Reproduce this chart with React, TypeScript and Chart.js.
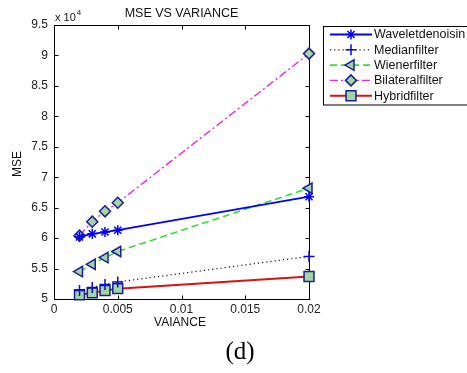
import React, { useEffect, useRef } from 'react';
import { Chart, registerables } from 'chart.js';
import { drawPoint } from 'chart.js/helpers';

Chart.register(...registerables);

// ---- data ----
const variance = [0.002, 0.003, 0.004, 0.005, 0.02];
const wavelet = [60200, 60700, 61000, 61300, 66800];
const median = [51400, 51900, 52400, 52800, 57000];
const wiener = [54500, 55700, 56800, 57800, 68200];
const bilateral = [60400, 62700, 64400, 65800, 90300];
const hybrid = [50700, 51000, 51400, 51700, 53700];
const seriesNames = ['Waveletdenoisin', 'Medianfilter', 'Wienerfilter', 'Bilateralfilter', 'Hybridfilter'];
const xTicks = [0, 0.005, 0.01, 0.015, 0.02];
const yTicks = [50000, 55000, 60000, 65000, 70000, 75000, 80000, 85000, 90000, 95000];
const titleText = 'MSE VS VARIANCE';
const xLabel = 'VAIANCE';
const yLabel = 'MSE';
const caption = '(d)';

const FONT = "'Liberation Sans', Arial, sans-serif";
const EDGE = '#1c1c9c';
const FILL = '#9fd89f';

const styles = [
  { color: '#0000ff', dash: [], width: 1.8, point: 'star', radius: 5, rot: 0, edge: '#0000ff', fill: 'rgba(0,0,0,0)' },
  { color: '#111111', dash: [1.2, 3], width: 1.2, point: 'cross', radius: 5.5, rot: 0, edge: '#0a0ad0', fill: 'rgba(0,0,0,0)' },
  { color: '#33dd33', dash: [7, 4], width: 1.6, point: 'triangle', radius: 6, rot: -90, edge: EDGE, fill: FILL },
  { color: '#ee22ee', dash: [8, 3, 2, 3], width: 1.4, point: 'rectRot', radius: 5.5, rot: 0, edge: EDGE, fill: FILL },
  { color: '#dd1111', dash: [], width: 2, point: 'rect', radius: 7, rot: 0, edge: EDGE, fill: FILL },
];
const seriesValues = [wavelet, median, wiener, bilateral, hybrid];

const decor = {
  id: 'decor',
  beforeDatasetsDraw(chart: any) {
    const { ctx, chartArea: a, scales } = chart;
    const xs = scales.x, ys = scales.y;
    ctx.save();
    ctx.strokeStyle = '#000';
    ctx.lineWidth = 1;
    ctx.setLineDash([]);
    const L = Math.round(a.left) + 0.5, R = Math.round(a.right) + 0.5;
    const T = Math.round(a.top) + 0.5, B = Math.round(a.bottom) + 0.5;
    ctx.strokeRect(L, T, R - L, B - T);
    ctx.beginPath();
    const tl = 4;
    xTicks.forEach((v) => {
      const px = Math.round(xs.getPixelForValue(v)) + 0.5;
      ctx.moveTo(px, B); ctx.lineTo(px, B - tl);
      ctx.moveTo(px, T); ctx.lineTo(px, T + tl);
    });
    yTicks.forEach((v) => {
      const py = Math.round(ys.getPixelForValue(v)) + 0.5;
      ctx.moveTo(L, py); ctx.lineTo(L + tl, py);
      ctx.moveTo(R, py); ctx.lineTo(R - tl, py);
    });
    ctx.stroke();
    ctx.restore();
  },
  afterDraw(chart: any) {
    const { ctx, chartArea: a } = chart;
    ctx.save();
    ctx.fillStyle = '#111';
    ctx.textAlign = 'center';
    ctx.textBaseline = 'middle';
    ctx.font = `12.5px ${FONT}`;
    ctx.fillText(titleText, (a.left + a.right) / 2, 13.5);

    // exponent
    ctx.textAlign = 'left';
    ctx.textBaseline = 'alphabetic';
    ctx.font = `11px ${FONT}`;
    ctx.fillText('x 10', a.left + 1, 21);
    const w = ctx.measureText('x 10').width;
    ctx.font = `8px ${FONT}`;
    ctx.fillText('4', a.left + 1 + w + 1, 15);

    // axis labels
    ctx.font = `12px ${FONT}`;
    ctx.textAlign = 'center';
    ctx.textBaseline = 'middle';
    ctx.fillText(xLabel, 180, 323);
    ctx.save();
    ctx.translate(18, 164);
    ctx.rotate(-Math.PI / 2);
    ctx.fillText(yLabel, 0, 0);
    ctx.restore();

    // caption
    ctx.fillStyle = '#000';
    ctx.font = `25px 'Liberation Serif', 'DejaVu Serif', serif`;
    ctx.fillText(caption, 240, 352);

    // legend
    const lx = 323.5, ly = 26.5;
    ctx.fillStyle = '#fff';
    ctx.fillRect(lx, ly, 200, 78.5);
    ctx.strokeStyle = '#000';
    ctx.lineWidth = 1;
    ctx.setLineDash([]);
    ctx.strokeRect(lx, ly, 200, 78.5);
    ctx.font = `12.5px ${FONT}`;
    ctx.textAlign = 'left';
    ctx.textBaseline = 'middle';
    styles.forEach((s, i) => {
      const y = 34.5 + i * 15.3;
      ctx.beginPath();
      ctx.strokeStyle = s.color;
      ctx.lineWidth = s.width;
      ctx.setLineDash(s.dash);
      ctx.moveTo(330, y);
      ctx.lineTo(372, y);
      ctx.stroke();
      ctx.setLineDash([]);
      ctx.strokeStyle = s.edge;
      ctx.fillStyle = s.fill;
      ctx.lineWidth = 1.5;
      drawPoint(ctx, { pointStyle: s.point as any, radius: s.radius, rotation: s.rot, borderWidth: 1.5 }, 351, y);
      ctx.fillStyle = '#111';
      ctx.fillText(seriesNames[i], 374, y + 0.5);
    });
    ctx.restore();
  },
};

export default function App() {
  const ref = useRef<HTMLCanvasElement>(null);
  useEffect(() => {
    if (!ref.current) return;
    const chart = new Chart(ref.current, {
      type: 'line',
      data: {
        datasets: styles.map((s, i) => ({
          label: seriesNames[i],
          data: variance.map((x, j) => ({ x, y: seriesValues[i][j] })),
          borderColor: s.color,
          borderWidth: s.width,
          borderDash: s.dash,
          pointStyle: s.point as any,
          pointRadius: s.radius,
          pointRotation: s.rot,
          pointBorderColor: s.edge,
          pointBackgroundColor: s.fill,
          pointBorderWidth: 1.5,
          fill: false,
          tension: 0,
          clip: false as any,
        })),
      },
      options: {
        animation: false,
        responsive: false,
        layout: { padding: { left: 0, top: 25, right: 158, bottom: 0 } },
        plugins: { legend: { display: false }, title: { display: false }, tooltip: { enabled: false } },
        scales: {
          x: {
            type: 'linear',
            min: 0,
            max: 0.02,
            grid: { display: false, drawTicks: false },
            border: { display: false },
            afterBuildTicks: (s: any) => { s.ticks = xTicks.map((v) => ({ value: v })); },
            afterFit: (s: any) => { s.height = 74; },
            ticks: {
              padding: 3,
              color: '#222',
              font: { family: FONT, size: 12 },
              callback: (v: any) => String(+Number(v).toFixed(3)),
            },
          },
          y: {
            type: 'linear',
            min: 50000,
            max: 95000,
            grid: { display: false, drawTicks: false },
            border: { display: false },
            afterBuildTicks: (s: any) => { s.ticks = yTicks.map((v) => ({ value: v })); },
            afterFit: (s: any) => { s.width = 54; },
            ticks: {
              padding: 6,
              color: '#222',
              font: { family: FONT, size: 12 },
              callback: (v: any) => String(Number(v) / 10000),
            },
          },
        },
      },
      plugins: [decor],
    });
    return () => chart.destroy();
  }, []);
  return (
    <div style={{ position: 'fixed', left: 0, top: 0, width: 467, height: 373, background: '#fff' }}>
      <canvas ref={ref} width={467} height={373} style={{ width: 467, height: 373 }} />
    </div>
  );
}
